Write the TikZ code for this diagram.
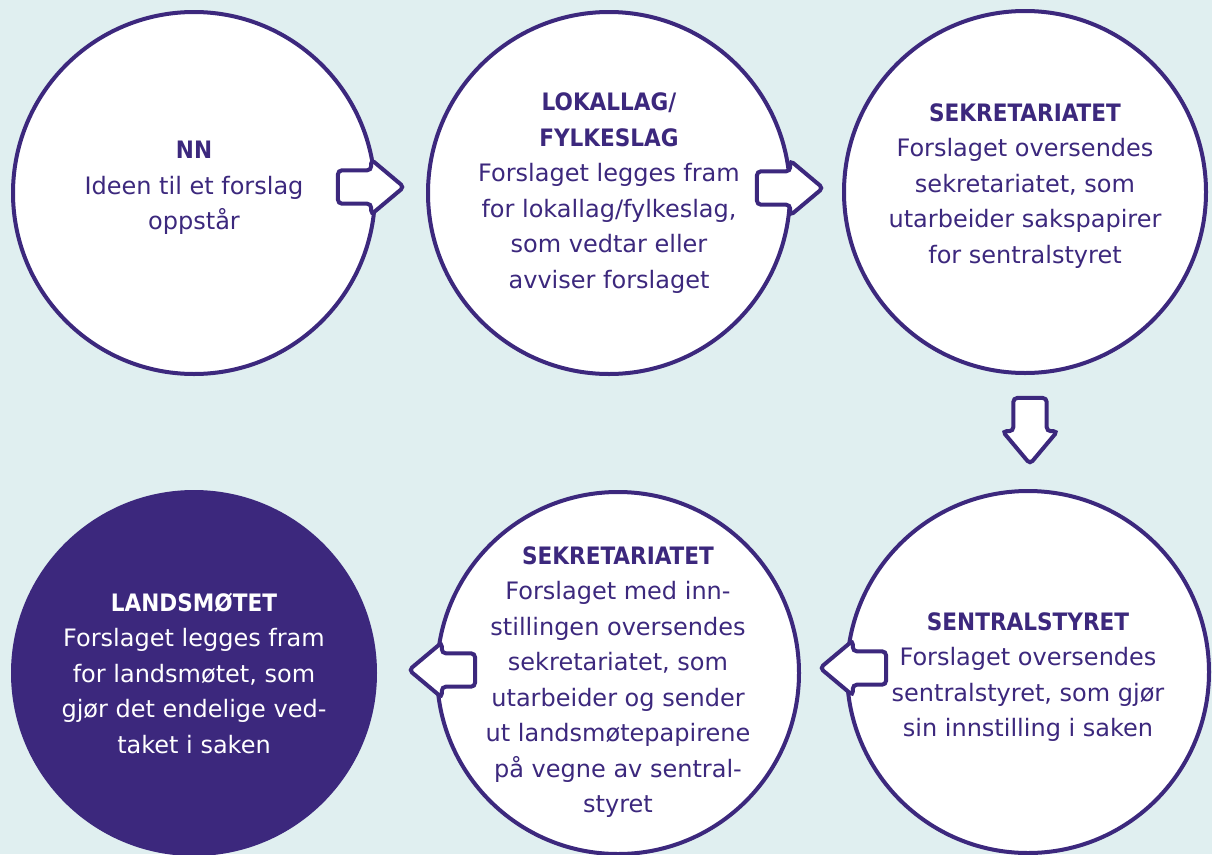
\documentclass[tikz,border=0pt]{standalone}
\usepackage{fontspec}
\setmainfont{DejaVu Sans}[BoldFont={DejaVu Sans Condensed Bold}]
\usetikzlibrary{shapes.arrows, positioning}
\definecolor{bgblue}{RGB}{224,239,240}
\definecolor{partyviolet}{RGB}{60,40,125}
\tikzset{>=stealth}

\begin{document}
\begin{tikzpicture}[x=1pt, y=-1pt, line width=4pt,
	stage/.style={circle, draw=partyviolet, fill=white, minimum size=362pt, inner sep=0pt},
	final/.style={stage, fill=partyviolet},
	stagetext/.style={align=center, text=partyviolet, font=\fontsize{24}{35.5}\selectfont},
	finaltext/.style={stagetext, text=white},
	flow/.style={single arrow, draw=partyviolet, fill=white, rounded corners=4pt,
		minimum height=66pt, minimum width=55pt, inner sep=9pt, single arrow tip angle=80}]
		\fill[bgblue] (0,0) rectangle (1212,854);
		\useasboundingbox (0,0) rectangle (1212,854);
		
		\node[stage] (nn) at (194,193) {};
		\node[stage] (lokal) at (609,193) {};
		\node[stage] (sekr) at (1025,192) {};
		\node[stage] (sentral) at (1028,672) {};
		\node[stage] (sekrb) at (618,673) {};
		\node[final] (lands) at (194,673) {};
		
		\node[stagetext] (nn-txt) at ([yshift=5pt]nn.center) {\textbf{NN}\\Ideen til et forslag\\oppstår};
		\node[stagetext] (lokal-txt) at (lokal.center) {\textbf{LOKALLAG/}\\\textbf{FYLKESLAG}\\Forslaget legges fram\\for lokallag/fylkeslag,\\som vedtar eller\\avviser forslaget};
		\node[stagetext] (sekr-txt) at ([yshift=6pt]sekr.center) {\textbf{SEKRETARIATET}\\Forslaget oversendes\\sekretariatet, som\\utarbeider sakspapirer\\for sentralstyret};
		\node[stagetext] (sentral-txt) at ([yshift=-5pt]sentral.center) {\textbf{SENTRALSTYRET}\\Forslaget oversendes\\sentralstyret, som gjør\\sin innstilling i saken};
		\node[stagetext] (sekrb-txt) at ([yshift=-9pt]sekrb.center) {\textbf{SEKRETARIATET}\\Forslaget med inn-\\stillingen oversendes\\sekretariatet, som\\utarbeider og sender\\ut landsmøtepapirene\\på vegne av sentral-\\styret};
		\node[finaltext] (lands-txt) at (lands.center) {\textbf{LANDSMØTET}\\Forslaget legges fram\\for landsmøtet, som\\gjør det endelige ved-\\taket i saken};
		
		% piler mellom trinnene
		\node[flow] (p1) at (361,187) {};
		\node[flow] (p2) at (780,188) {};
		\node[flow, shape border rotate=270] (p3) at (1030,421) {};
		\node[flow, shape border rotate=180] (p4) at (863,668) {};
		\node[flow, shape border rotate=180] (p5) at (452,670) {};
\end{tikzpicture}
\end{document}
